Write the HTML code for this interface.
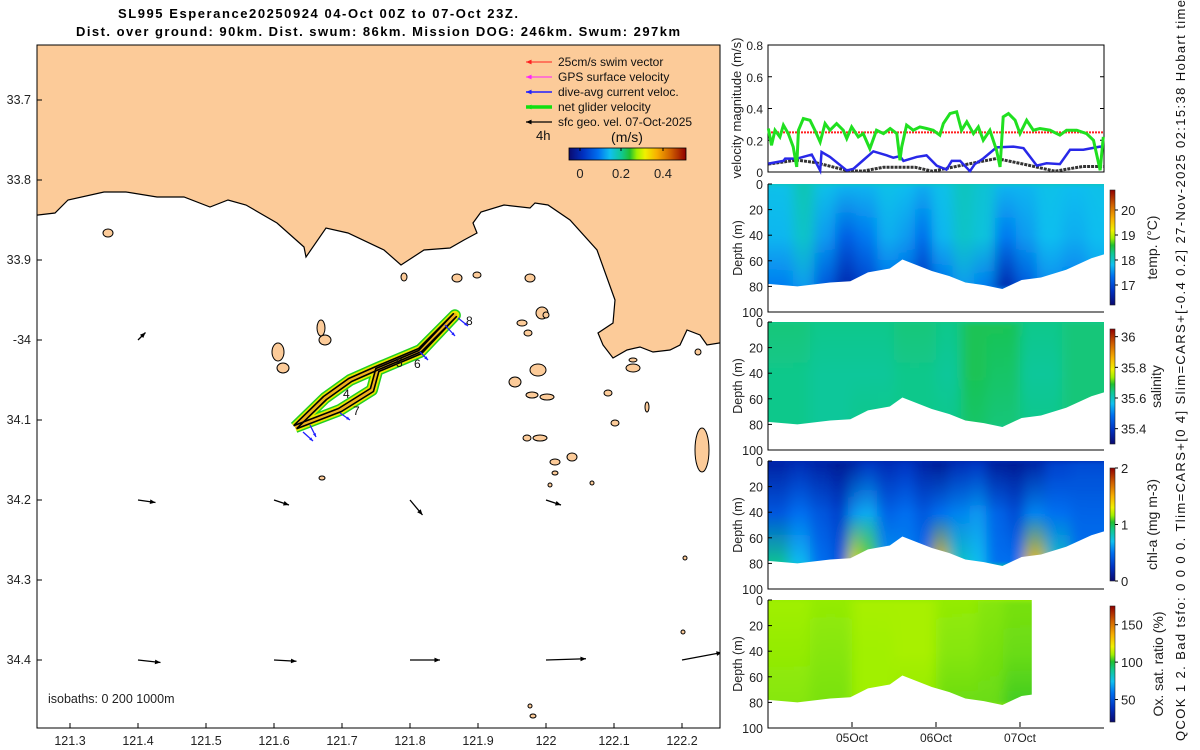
<!DOCTYPE html>
<html><head><meta charset="utf-8"><style>
html,body{margin:0;padding:0;background:#fff;}
svg{display:block;font-family:"Liberation Sans","DejaVu Sans",sans-serif;}
</style></head><body>
<svg id="fig" width="1200" height="750" viewBox="0 0 1200 750" xmlns="http://www.w3.org/2000/svg">
<defs>
<clipPath id="mapclip"><rect x="37" y="45" width="683" height="683"/></clipPath>
<filter id="hblur" x="-5%" y="-5%" width="110%" height="110%"><feGaussianBlur stdDeviation="6 2"/></filter>
<linearGradient id="jetH" x1="0" x2="1" y1="0" y2="0">
<stop offset="0" stop-color="#0a0a70"/><stop offset="0.12" stop-color="#0030c0"/><stop offset="0.25" stop-color="#0070f0"/><stop offset="0.35" stop-color="#10c0f0"/><stop offset="0.45" stop-color="#10c890"/><stop offset="0.52" stop-color="#20c030"/><stop offset="0.58" stop-color="#a0f000"/><stop offset="0.65" stop-color="#f0f000"/><stop offset="0.75" stop-color="#f8b000"/><stop offset="0.87" stop-color="#d06000"/><stop offset="1" stop-color="#900000"/></linearGradient>
<linearGradient id="jetV" x1="0" x2="0" y1="1" y2="0">
<stop offset="0" stop-color="#0a0a70"/><stop offset="0.12" stop-color="#0030c0"/><stop offset="0.25" stop-color="#0070f0"/><stop offset="0.35" stop-color="#10c0f0"/><stop offset="0.45" stop-color="#10c890"/><stop offset="0.52" stop-color="#20c030"/><stop offset="0.58" stop-color="#a0f000"/><stop offset="0.65" stop-color="#f0f000"/><stop offset="0.75" stop-color="#f8b000"/><stop offset="0.87" stop-color="#d06000"/><stop offset="1" stop-color="#900000"/></linearGradient>
</defs>
<text x="318" y="18" text-anchor="middle" font-size="13" font-weight="bold" textLength="400">SL995 Esperance20250924 04-Oct 00Z to 07-Oct 23Z.</text>
<text x="378" y="36" text-anchor="middle" font-size="13" font-weight="bold" textLength="604">Dist. over ground: 90km. Dist. swum: 86km. Mission DOG: 246km. Swum: 297km</text>
<g id="map">
<g clip-path="url(#mapclip)">
<rect x="37" y="45" width="683" height="683" fill="#fff"/>
<polygon fill="#fccb99" stroke="#000" stroke-width="1.2" points="30,40 725,40 725,342 707,345 700,335 687,330 680,345 670,350 653,352 640,347 627,350 613,358 603,345 598,333 613,323 615,300 597,250 570,220 548,205 535,203 530,208 504,205 481,212 473,223 477,233 464,240 450,248 424,250 401,265 384,250 348,233 326,228 306,257 304,247 277,223 246,205 228,200 210,207 184,197 157,197 126,192 104,192 68,200 55,213 30,216"/>
<g id="islands" fill="#fccb99" stroke="#000" stroke-width="1"></g>
<g id="geoarrows"></g>
<g id="track"></g>
</g>
<rect x="37" y="45" width="683" height="683" fill="none" stroke="#000" stroke-width="1"/>
<g id="mapticks" font-size="12.5" fill="#222"></g>
<text x="48" y="703" font-size="12.5" fill="#222">isobaths: 0    200  1000m</text>
<g id="legend" font-size="12" fill="#111"></g>
</g>
<g id="right"></g>
<text transform="translate(1185,741) rotate(-90)" font-size="13" fill="#111" textLength="741">QCOK 1  2. Bad tsfo: 0  0  0  0. Tlim=CARS+[0 4] Slim=CARS+[-0.4 0.2] 27-Nov-2025 02:15:38 Hobart time</text>
</svg>
<script>
const NS='http://www.w3.org/2000/svg';
function mk(tag,attrs,parent){const e=document.createElementNS(NS,tag);for(const k in attrs)e.setAttribute(k,attrs[k]);if(parent)parent.appendChild(e);return e;}

// ---------- map data ----------
const lonTicks=[121.3,121.4,121.5,121.6,121.7,121.8,121.9,122,122.1,122.2];
const latTicks=[33.7,33.8,33.9,34,34.1,34.2,34.3,34.4];
const latLabels=['33.7','33.8','33.9','-34','34.1','34.2','34.3','34.4'];
const geoLon=[121.4,121.4,121.6,121.8,122.0,121.4,121.6,121.8,122.0,122.2];
const geoLat=[34.0,34.2,34.2,34.2,34.2,34.4,34.4,34.4,34.4,34.4];
const geoU=[0.03,0.07,0.06,0.05,0.06,0.09,0.09,0.12,0.16,0.16];
const geoV=[0.03,-0.01,-0.02,-0.06,-0.02,-0.01,-0.005,0,0.005,0.03];
const trackLon=[121.631,121.675,121.712,121.752,121.815,121.866,121.815,121.752,121.744,121.697,121.631];
const trackLat=[34.109,34.0725,34.05,34.035,34.0125,33.969,34.015,34.0375,34.0625,34.0875,34.109];
const xLon=l=>70+(l-121.3)*680;
const yLat=l=>100+(l-33.7)*800;

const mt=document.getElementById('mapticks');
lonTicks.forEach(l=>{const x=xLon(l);
 let t=mk('line',{x1:x,x2:x,y1:728,y2:723,stroke:'#000'},mt);
 
 let s=mk('text',{x:x,y:745,'text-anchor':'middle'},mt);s.textContent=String(l);
 });
latTicks.forEach((l,i)=>{const y=yLat(l);
 let t=mk('line',{x1:37,x2:42,y1:y,y2:y,stroke:'#000'},mt);
 
 let s=mk('text',{x:31,y:y+4,'text-anchor':'end'},mt);s.textContent=latLabels[i];
 });

const isl=document.getElementById('islands');
[[108,233,5,4],[278,352,6,9],[283,368,6,5],[321,328,4,8],[325,340,6,5],[404,277,3,4],[457,278,5,4],[477,275,4,3],[530,278,5,4],[542,313,6,6],[522,323,5,3],[528,333,4,3],[538,370,8,6],[515,382,6,5],[532,395,6,3],[547,397,7,3],[540,438,7,3],[527,438,4,3],[572,457,5,4],[555,462,5,3],[555,473,3,2],[633,368,7,4],[633,360,4,2],[608,393,4,3],[615,423,4,3],[647,407,2,5],[702,450,7,22],[698,352,3,3],[546,315,3,3],[322,478,3,2],[533,716,3,2],[530,706,2,2],[683,632,2,2],[685,558,2,2],[550,485,2,2],[592,483,2,2]].forEach(a=>{
 let e=mk('ellipse',{cx:a[0],cy:a[1],rx:a[2],ry:a[3]},isl);
 });

const ga=document.getElementById('geoarrows');
const arrScale=250;
function arrow(g,x1,y1,x2,y2,col,w,hs){
 mk('line',{x1:x1,y1:y1,x2:x2,y2:y2,stroke:col,'stroke-width':w},g);
 const a=Math.atan2(y2-y1,x2-x1);
 const p=[[x2,y2],[x2-hs*Math.cos(a-0.4),y2-hs*Math.sin(a-0.4)],[x2-hs*Math.cos(a+0.4),y2-hs*Math.sin(a+0.4)]];
 mk('polygon',{points:p.map(q=>q.join(',')).join(' '),fill:col},g);}
geoLon.forEach((l,i)=>{const g=mk('g',{},ga);
 
 const x=xLon(l),y=yLat(geoLat[i]);
 arrow(g,x,y,x+geoU[i]*arrScale,y-geoV[i]*arrScale,'#000',1.3,6);});

const tr=document.getElementById('track');
const tp=trackLon.map((l,i)=>xLon(l)+','+yLat(trackLat[i])).join(' ');
let b1=mk('polyline',{points:tp,fill:'none',stroke:'#20d020','stroke-width':12,'stroke-linejoin':'round'},tr);

let b2=mk('polyline',{points:tp,fill:'none',stroke:'#e8e800','stroke-width':9,'stroke-linejoin':'round'},tr);

let b3=mk('polyline',{points:tp,fill:'none',stroke:'#f0a020','stroke-width':4,'stroke-linejoin':'round','opacity':0.8},tr);

[-1.5,1.5].forEach(o=>{let p=mk('polyline',{points:trackLon.map((l,i)=>(xLon(l)+o)+','+(yLat(trackLat[i])+o)).join(' '),fill:'none',stroke:'#000','stroke-width':1.6,'stroke-linejoin':'round'},tr);
 });
[[303,432,313,441],[340,413,350,420],[445,325,455,336],[458,318,468,326],[420,352,428,360],[310,425,316,437]].forEach(a=>{const g=mk('g',{},tr);
 
 arrow(g,a[0],a[1],a[2],a[3],'#2020ff',1.3,4);});
[['4',343,398],['7',353,415],['5',396,367],['6',414,368],['8',466,325]].forEach(a=>{let t=mk('text',{x:a[1],y:a[2],'font-size':12,fill:'#111'},tr);t.textContent=a[0];
 });

const lg=document.getElementById('legend');
[['25cm/s swim vector','#ff2020',1],['GPS surface velocity','#ff20ff',1],['dive-avg current veloc.','#2020ff',1.6],['net glider velocity','#10e010',3.5],['sfc geo. vel. 07-Oct-2025','#000',1.3]].forEach((e,i)=>{
 const y=62+i*15;const g=mk('g',{},lg);
 
 arrow(g,552,y,526,y,e[1],e[2],6);
 const t=mk('text',{x:558,y:y+4},g);t.textContent=e[0];});
let t4=mk('text',{x:536,y:140,'font-size':13},lg);t4.textContent='4h';

let tu=mk('text',{x:627,y:142,'font-size':14,'text-anchor':'middle'},lg);tu.textContent='(m/s)';

let cb=mk('rect',{x:569,y:148,width:117,height:12,fill:'url(#jetH)',stroke:'#000','stroke-width':0.8},lg);

[[580,'0'],[621,'0.2'],[663,'0.4']].forEach(a=>{mk('line',{x1:a[0],x2:a[0],y1:148,y2:151,stroke:'#000'},lg);const t=mk('text',{x:a[0],y:178,'text-anchor':'middle','font-size':13,fill:'#222'},lg);t.textContent=a[1];
 });

// ---------- right panels ----------
const R=document.getElementById('right');
const X0=768,X1=1104;
const xH=h=>X0+h/96*(X1-X0);
const xD=d=>X0+d*84;

const netT=[0.1,1.0,2.0,3.4,4.4,5.8,7.2,8.2,8.7,10.1,12.0,13.4,14.9,16.3,17.7,19.6,21.5,22.5,23.9,25.8,27.2,29.1,31.0,33.0,34.9,36.8,37.7,38.2,39.6,41.5,43.4,45.3,47.2,49.1,50.1,52.0,53.9,55.3,56.8,58.7,60.1,61.5,63.4,65.3,66.3,67.2,68.7,70.6,72.0,73.9,75.8,77.7,80.6,83.4,85.3,88.2,91.0,93.0,94.9,95.8];
const netV=[0.274,0.168,0.263,0.221,0.295,0.242,0.158,0.032,0.263,0.337,0.326,0.263,0.189,0.305,0.263,0.305,0.263,0.211,0.284,0.221,0.242,0.147,0.263,0.242,0.274,0.242,0.074,0.158,0.295,0.263,0.284,0.274,0.263,0.232,0.305,0.368,0.379,0.263,0.316,0.242,0.284,0.2,0.263,0.137,0.032,0.347,0.368,0.326,0.242,0.326,0.263,0.274,0.263,0.232,0.263,0.263,0.242,0.2,0.011,0.221];
const daT=[0.1,4.4,4.9,8.2,12.5,14.9,15.3,17.7,22.5,24.4,27.2,30.1,33.9,35.8,37.7,38.7,42.5,45.3,48.2,51,52.5,54.9,57.7,59.1,61.5,65.3,70.1,73,76.8,79.6,83.4,86.3,90.1,94.9,95.8];
const daV=[0.053,0.07,0.084,0.084,0.11,0.01,0.126,0.095,0.01,0.02,0.074,0.13,0.105,0.09,0.1,0.07,0.095,0.105,0.04,0.015,0.07,0.07,0.005,0.05,0.085,0.155,0.16,0.15,0.04,0.055,0.05,0.14,0.14,0.16,0.15];
const geoT=[0.1,8.2,13.4,18,22.5,27,33,42,47,56,65.3,74,82,90,95.8];
const geoS=[0.05,0.075,0.06,0.035,0.01,0.005,0.03,0.03,0.005,0.045,0.085,0.045,0.005,0.035,0.035];
const swimV=0.25;
const velTicks=[0,0.2,0.4,0.6,0.8];
const yV=v=>172-v/0.8*127;

const vp=mk('g',{},R);
mk('rect',{x:X0,y:45,width:X1-X0,height:127,fill:'#fff',stroke:'#000'},vp);
velTicks.forEach(v=>{const y=yV(v);mk('line',{x1:X0,x2:X0+4,y1:y,y2:y,stroke:'#000'},vp);mk('line',{x1:X1,x2:X1-4,y1:y,y2:y,stroke:'#000'},vp);
 const t=mk('text',{x:X0-5,y:y+5,'text-anchor':'end','font-size':12,fill:'#222'},vp);t.textContent=String(v);
 });
let sw=mk('line',{x1:X0,x2:X1,y1:yV(swimV),y2:yV(swimV),stroke:'#ff2020','stroke-width':2,'stroke-dasharray':'2,1'},vp);

let gl=mk('polyline',{points:geoT.map((t,i)=>xH(t)+','+yV(geoS[i])).join(' '),fill:'none',stroke:'#333','stroke-width':3,'stroke-dasharray':'3,1'},vp);

let dl=mk('polyline',{points:daT.map((t,i)=>xH(t)+','+yV(daV[i])).join(' '),fill:'none',stroke:'#2828e8','stroke-width':2.5},vp);

let nl=mk('polyline',{points:netT.map((t,i)=>xH(t)+','+yV(netV[i])).join(' '),fill:'none',stroke:'#20e020','stroke-width':3},vp);

let vt=mk('text',{transform:'translate(741,108) rotate(-90)','text-anchor':'middle','font-size':13,fill:'#222'},vp);vt.textContent='velocity magnitude (m/s)';


const stops=[[0,[10,10,112]],[0.12,[0,48,192]],[0.25,[0,112,240]],[0.35,[16,192,240]],[0.45,[16,200,144]],[0.52,[32,192,48]],[0.58,[160,240,0]],[0.65,[240,240,0]],[0.75,[248,176,0]],[0.87,[208,96,0]],[1,[144,0,0]]];
function cmap(n){n=Math.max(0,Math.min(1,n));for(let i=1;i<stops.length;i++){if(n<=stops[i][0]){const a=stops[i-1],b=stops[i],f=(n-a[0])/(b[0]-a[0]);return 'rgb('+a[1].map((c,k)=>Math.round(c+(b[1][k]-c)*f)).join(',')+')';}}return 'rgb(144,0,0)';}

const botD=[0,0.35,0.74,0.98,1.19,1.45,1.6,1.95,2.16,2.35,2.57,2.79,3.02,3.25,3.55,3.85,4.0];
const botZ=[78,80,77,76,69,66,59,68,72,77,79,82,75,73,67,58,55];
const depthTicks=[0,20,40,60,80,100];

const tempD=[0,0.3,0.55,0.8,1.05,1.3,1.55,1.75,1.95,2.2,2.45,2.7,2.95,3.2,3.5,3.8,4.0];
const tempS=[17.85,18.1,17.85,17.75,17.75,17.85,17.8,17.7,17.85,18.05,17.95,17.75,17.75,17.85,17.8,17.85,17.85];
const tempM=[17.75,18.0,17.6,17.2,17.4,17.7,17.6,17.3,17.75,18.0,17.9,17.4,17.6,17.8,17.7,17.8,17.8];
const tempB=[17.4,17.6,17.1,16.6,16.9,17.3,17.2,16.7,17.3,17.6,17.4,16.6,17.1,17.5,17.4,17.6,17.6];
const salD=[0,0.5,1.0,1.5,2.0,2.3,2.6,3.0,3.5,4.0];
const salS=[35.65,35.64,35.64,35.65,35.64,35.67,35.67,35.64,35.65,35.65];
const salM=[35.64,35.63,35.63,35.64,35.63,35.67,35.66,35.63,35.65,35.65];
const salB=[35.64,35.63,35.64,35.64,35.64,35.66,35.65,35.64,35.65,35.65];
const chlD=[0,0.25,0.5,0.75,0.95,1.1,1.3,1.55,1.75,1.95,2.15,2.4,2.6,2.85,3.05,3.3,3.6,4.0];
const chlS=[0.15,0.2,0.15,0.1,0.15,0.25,0.2,0.25,0.15,0.1,0.2,0.25,0.12,0.1,0.15,0.3,0.35,0.35];
const chlM=[0.4,0.5,0.4,0.3,0.6,0.65,0.45,0.5,0.4,0.5,0.55,0.6,0.45,0.35,0.55,0.5,0.45,0.45];
const chlB=[0.9,0.7,0.5,0.4,1.35,1.1,0.6,0.55,0.5,1.45,0.8,0.7,0.5,0.5,1.45,0.8,0.5,0.5];
const oxD=[0,0.5,1.0,1.5,2.0,2.5,2.8,3.14];
const oxS=[110,109,111,111,109,108,107,107];
const oxM=[109,108,110,111,108,107,106,106];
const oxB=[108,107,110,109,106,106,103,104];

function section(name,y0,D,S,M,B,vmin,vmax,endDay,cbTop,cbBot,cbTicks,cbLabel,cbTitleX){
 const g=mk('g',{},R);
 const yZ=z=>y0+z/100*128;
 const cid='clip-'+name;
 const cp=mk('clipPath',{id:cid},g);
 const poly=[[xD(0),yZ(0)]].concat(botD.filter(d=>d<=endDay).map((d,i)=>[xD(d),yZ(botZ[i])]));
 if(endDay<4){let i=botD.findIndex(d=>d>endDay);const f=(endDay-botD[i-1])/(botD[i]-botD[i-1]);poly.push([xD(endDay),yZ(botZ[i-1]+f*(botZ[i]-botZ[i-1]))]);}
 poly.push([xD(endDay),yZ(0)]);
 mk('polygon',{points:poly.map(p=>p.join(',')).join(' ')},cp);
 const cg=mk('g',{'clip-path':'url(#'+cid+')'},g);
 const bg=mk('g',{filter:'url(#hblur)'},cg);
 const nrm=v=>(v-vmin)/(vmax-vmin);
 for(let i=0;i<D.length-1;i++){
  const gid='g-'+name+i;
  const lgd=mk('linearGradient',{id:gid,x1:0,x2:0,y1:0,y2:1},g);
  [[0,S[i]],[0.5,M[i]],[1,B[i]]].forEach(s=>mk('stop',{offset:s[0],'stop-color':cmap(nrm(s[1]))},lgd));
  const xa=i===0?xD(D[i])-25:xD(D[i]);
  const xb=i===D.length-2?xD(D[i+1])+25:xD(D[i+1])+0.6;
  const r=mk('rect',{x:xa,y:yZ(0),width:xb-xa,height:yZ(82)-yZ(0),fill:'url(#'+gid+')'},bg);
  
 }
 mk('rect',{x:X0-30,y:yZ(82)-1,width:400,height:30,fill:cmap(nrm(B[0]))},bg);
 mk('rect',{x:X0-30,y:yZ(0)-20,width:400,height:21,fill:cmap(nrm(S[1]))},bg);
 mk('path',{d:`M${X0},${y0} V${y0+128} H${X1}`,fill:'none',stroke:'#000'},g);
 depthTicks.forEach(z=>{const y=yZ(z);mk('line',{x1:X0,x2:X0+4,y1:y,y2:y,stroke:'#000'},g);
  const t=mk('text',{x:X0-5,y:y+5,'text-anchor':'end','font-size':12.5,fill:'#222'},g);t.textContent=String(z);
  });
 const dt=mk('text',{transform:`translate(742,${y0+64}) rotate(-90)`,'text-anchor':'middle','font-size':12.5,fill:'#222'},g);dt.textContent='Depth (m)';
 
 const cb=mk('rect',{x:1110,y:cbTop,width:5,height:cbBot-cbTop,fill:'url(#jetV)',stroke:'#222','stroke-width':0.6},g);
 
 cbTicks.forEach(v=>{const y=cbBot-(v-vmin)/(vmax-vmin)*(cbBot-cbTop);
  mk('line',{x1:1115,x2:1118,y1:y,y2:y,stroke:'#000'},g);
  const t=mk('text',{x:1121,y:y+5,'font-size':13,fill:'#222'},g);t.textContent=String(v);
  });
 const ct=mk('text',{transform:`translate(${cbTitleX},${(cbTop+cbBot)/2}) rotate(-90)`,'text-anchor':'middle','font-size':14,fill:'#222'},g);ct.textContent=cbLabel;
 
}
section('temp',184,tempD,tempS,tempM,tempB,16.2,20.8,4,190,305,[17,18,19,20],'temp. (°C)',1157);
section('salinity',322,salD,salS,salM,salB,35.3,36.05,4,329,444,[35.4,35.6,35.8,36],'salinity',1161);
section('chl',461,chlD,chlS,chlM,chlB,0,2,4,468,581,[0,1,2],'chl-a (mg m-3)',1157);
section('oxygen',600,oxD,oxS,oxM,oxB,20,175,3.14,606,722,[50,100,150],'Ox. sat. ratio (%)',1163);

const dayTicks=[1,2,3];const dayLabels=['05Oct','06Oct','07Oct'];
dayTicks.forEach((d,i)=>{const x=xD(d);mk('line',{x1:x,x2:x,y1:727,y2:722,stroke:'#000'},R);
 const t=mk('text',{x:x,y:742,'text-anchor':'middle','font-size':12,fill:'#222'},R);t.textContent=dayLabels[i];
 });
</script>
</body></html>
